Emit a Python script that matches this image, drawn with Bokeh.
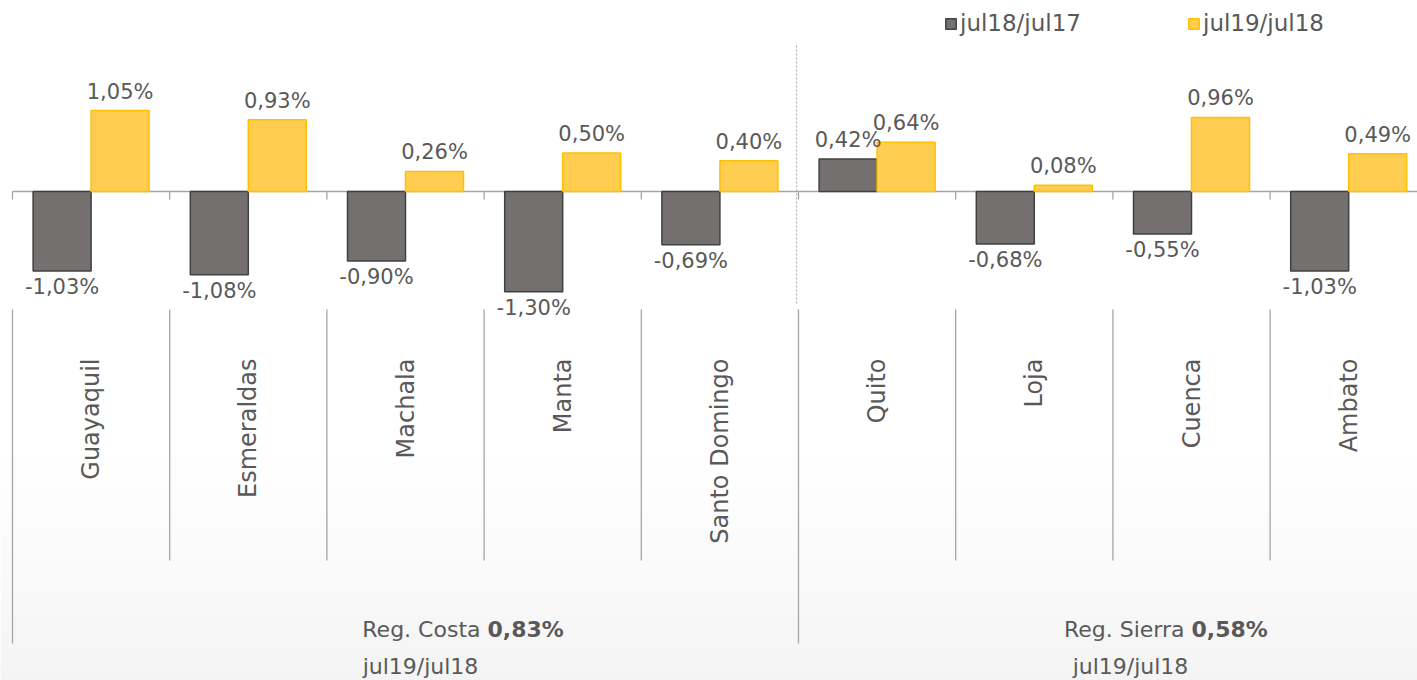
import numpy as np
from bokeh.plotting import figure
from bokeh.models import ColumnDataSource, Range1d, Legend, LegendItem
from bokeh.core.properties import value
from bokeh.embed import file_html
from bokeh.resources import INLINE

# ---------------- data ----------------
cities = ["Guayaquil", "Esmeraldas", "Machala", "Manta", "Santo Domingo",
          "Quito", "Loja", "Cuenca", "Ambato"]
jul18_jul17 = [-1.03, -1.08, -0.90, -1.30, -0.69, 0.42, -0.68, -0.55, -1.03]
jul19_jul18 = [1.05, 0.93, 0.26, 0.50, 0.40, 0.64, 0.08, 0.96, 0.49]
series_names = ["jul18/jul17", "jul19/jul18"]
regions = ["Reg. Costa", "Reg. Sierra"]
region_values = ["0,83%", "0,58%"]
region_sizes = [5, 4]
region_sub = ["jul19/jul18", "jul19/jul18"]

# ---------------- layout helpers ----------------
W, H = 1417, 680
XS = 157.2          # px per category
YS = 77.1           # px per percentage point
x0 = -12 / XS
y_top = 191 / YS
y_bot = (191 - H) / YS


def xd(ix):  # picture x -> data
    return (ix - 12) / XS


def yd(iy):  # picture y -> data
    return (191 - iy) / YS


FONT = "DejaVu Sans"
TXT = "#595959"
DARK_FILL, DARK_LINE = "#747070", "#404040"
YEL_FILL, YEL_LINE = "#FFCD4F", "#FFC000"

p = figure(width=W, height=H, output_backend="svg", toolbar_location=None,
           x_range=Range1d(x0, x0 + W / XS), y_range=Range1d(y_bot, y_top),
           min_border=0, outline_line_color=None, background_fill_color="white",
           border_fill_color="white")
p.axis.visible = False
p.grid.visible = False

# subtle background gradient at the bottom
ny = 200
grad = np.linspace(0, 1, ny)[:, None] ** 1.3
img = np.zeros((ny, 2), dtype=np.uint32)
view = img.view(dtype=np.uint8).reshape((ny, 2, 4))
view[:, :, 0] = 240
view[:, :, 1] = 240
view[:, :, 2] = 240
view[:, :, 3] = (grad[::-1] * 190).astype(np.uint8)
gy0 = yd(H)
gy1 = yd(430)
p.image_rgba(image=[img], x=x0, y=gy0, dw=W / XS, dh=gy1 - gy0)

n = len(cities)
idx = np.arange(n)
bw = 58 / XS
src = ColumnDataSource(dict(
    xa=idx + 0.5 - bw / 2, xb=idx + 0.5 + bw / 2,
    a=jul18_jul17, b=jul19_jul18,
))

# zero line and axis ticks
p.segment(x0=[0], y0=[0], x1=[x0 + W / XS], y1=[0], line_color="#A6A6A6", line_width=1.3)
bounds = list(range(n + 1))
p.segment(x0=bounds, y0=[0] * len(bounds), x1=bounds, y1=[yd(199)] * len(bounds),
          line_color="#A6A6A6", line_width=1.3)

r1 = p.vbar(x="xa", top="a", bottom=0, width=bw, source=src,
            fill_color=DARK_FILL, line_color=DARK_LINE, line_width=1.5)
r2 = p.vbar(x="xb", top="b", bottom=0, width=bw, source=src,
            fill_color=YEL_FILL, line_color=YEL_LINE, line_width=1.5)


def fmt(v):
    return f"{v:.2f}".replace(".", ",") + "%"


xs_all = list(src.data["xa"]) + list(src.data["xb"])
vs_all = jul18_jul17 + jul19_jul18
pos = dict(x=[], y=[], t=[])
neg = dict(x=[], y=[], t=[])
for x, v in zip(xs_all, vs_all):
    d = pos if v >= 0 else neg
    d["x"].append(x)
    d["y"].append(v)
    d["t"].append(fmt(v))
p.text(x="x", y="y", text="t", source=ColumnDataSource(pos), text_align="center",
       text_baseline="bottom", y_offset=-7, text_font=value(FONT),
       text_font_size="21px", text_color=TXT)
p.text(x="x", y="y", text="t", source=ColumnDataSource(neg), text_align="center",
       text_baseline="top", y_offset=4, text_font=value(FONT),
       text_font_size="21px", text_color=TXT)

# category separators
group_edges = [0]
for s in region_sizes:
    group_edges.append(group_edges[-1] + s)
inner = [b for b in bounds if b not in group_edges]
p.segment(x0=inner, y0=[yd(309)] * len(inner), x1=inner, y1=[yd(560)] * len(inner),
          line_color="#A6A6A6", line_width=1.3)
p.segment(x0=group_edges, y0=[yd(309)] * len(group_edges), x1=group_edges,
          y1=[yd(643)] * len(group_edges), line_color="#A6A6A6", line_width=1.3)
# dotted divider between regions
mid = group_edges[1]
p.segment(x0=[mid - 0.012], y0=[yd(45)], x1=[mid - 0.012], y1=[yd(305)],
          line_color="#A6A6A6", line_width=1, line_dash="2 2")

# city labels (rotated, top-aligned)
p.text(x=list(idx + 0.5), y=[yd(358)] * n, text=cities, angle=np.pi / 2,
       text_align="right", text_baseline="middle", text_font=value(FONT),
       text_font_size="24px", text_color=TXT)

# region labels
rx_join = [xd(480), xd(1184)]
p.text(x=rx_join, y=[yd(629)] * 2, text=regions, text_align="right",
       text_baseline="middle", text_font=value(FONT), text_font_size="22px",
       text_color=TXT)
p.text(x=[r + 7 / XS for r in rx_join], y=[yd(629)] * 2, text=region_values,
       text_align="left", text_baseline="middle", text_font=value(FONT),
       text_font_size="22px", text_font_style="bold", text_color=TXT)
p.text(x=[xd(420), xd(1130)], y=[yd(666)] * 2, text=region_sub, text_align="center",
       text_baseline="middle", text_font=value(FONT), text_font_size="22px",
       text_color=TXT)

legend = Legend(items=[LegendItem(label=series_names[0], renderers=[r1]),
                       LegendItem(label=series_names[1], renderers=[r2])],
                location=(944, H - 36), orientation="horizontal", spacing=106,
                glyph_width=13, glyph_height=13, label_standoff=3,
                label_text_font=FONT, label_text_font_size="23px",
                label_text_color=TXT, background_fill_alpha=0,
                border_line_alpha=0, padding=0, margin=0)
p.add_layout(legend)

open("out.html", "w").write(file_html(p, INLINE))
